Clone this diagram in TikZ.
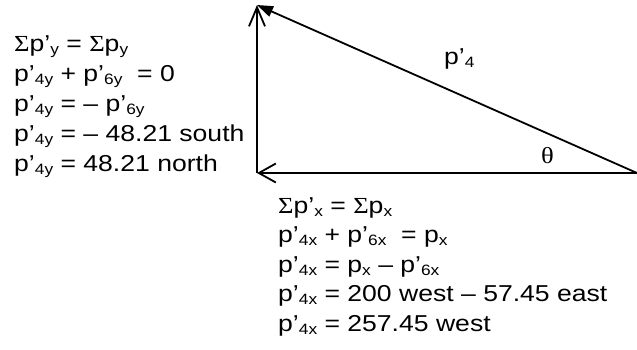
\documentclass[tikz,border=0pt]{standalone}
\usepackage{fontspec}
\usepackage{graphicx}
\setmainfont{Liberation Sans}
\newfontfamily\serifgr{Liberation Serif}
\usetikzlibrary{arrows.meta}
\newcommand{\mysub}[1]{\raisebox{-0.15em}{\fontsize{15}{15}\selectfont #1}}
\newcommand{\mySig}{{\serifgr Σ}}
\newcommand{\wide}[1]{\scalebox{1.155}[1]{#1}}
\tikzset{
  txt/.style={anchor=base west, inner sep=0pt, font=\fontsize{23}{28}\selectfont},
  vec/.style={line width=1.8pt, black},
}
\begin{document}
\begin{tikzpicture}[x=1pt,y=-1pt]
\useasboundingbox (0,0) rectangle (637,349);
% triangle corners
\coordinate (A) at (257,173);
\coordinate (B) at (257,5);
\coordinate (C) at (637,173);
\draw[vec, -{Straight Barb[length=19pt,width=16pt]}] (A) -- (B);
\draw[vec, -{Straight Barb[length=17pt,width=19pt]}] (C) -- (A);
\draw[vec, -{Triangle[length=16pt,width=11pt]}] (C) -- (B);
% labels
\node[txt] (p4) at (444,64) {\wide{p’\mysub{4}}};
\node[txt] (th) at (541,163) {\wide{\serifgr θ}};
% left block
\node[txt] (l1) at (14,51) {\wide{\mySig p’\mysub{y} = \mySig p\mysub{y}}};
\node[txt] (l2) at (14,81) {\wide{p’\mysub{4y} + p’\mysub{6y}~ = 0}};
\node[txt] (l3) at (14,111) {\wide{p’\mysub{4y} = – p’\mysub{6y}}};
\node[txt] (l4) at (14,141) {\wide{p’\mysub{4y} = – 48.21 south}};
\node[txt] (l5) at (14,171) {\wide{p’\mysub{4y} = 48.21 north}};
% bottom block
\node[txt] (b1) at (278,213) {\wide{\mySig p’\mysub{x} = \mySig p\mysub{x}}};
\node[txt] (b2) at (278,242.5) {\wide{p’\mysub{4x} + p’\mysub{6x}~ = p\mysub{x}}};
\node[txt] (b3) at (278,272) {\wide{p’\mysub{4x} = p\mysub{x} – p’\mysub{6x}}};
\node[txt] (b4) at (278,301.5) {\wide{p’\mysub{4x} = 200 west – 57.45 east}};
\node[txt] (b5) at (278,331) {\wide{p’\mysub{4x} = 257.45 west}};
\end{tikzpicture}
\end{document}
